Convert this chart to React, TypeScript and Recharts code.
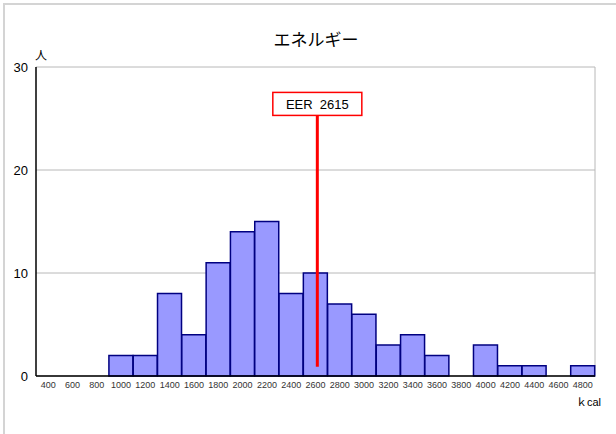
import {
  Bar,
  CartesianGrid,
  ComposedChart,
  ReferenceLine,
  XAxis,
  YAxis,
} from "recharts";

// 度数分布（200kcal刻み）
const categories = [
  "400", "600", "800", "1000", "1200", "1400", "1600", "1800", "2000", "2200", "2400", "2600",
  "2800", "3000", "3200", "3400", "3600", "3800", "4000", "4200", "4400", "4600", "4800",
];
const counts = [0, 0, 0, 2, 2, 8, 4, 11, 14, 15, 8, 10, 7, 6, 3, 4, 2, 0, 3, 1, 1, 0, 1];
const yTicks = [0, 10, 20, 30];

// 推定エネルギー必要量
const EER = 2615;
const eerSpan = [0.9, 25.3];

const data = categories.map((c, i) => ({ kcal: c, v: Number(c), n: counts[i] }));

const font = "'Liberation Sans', Arial, 'Noto Sans CJK JP', sans-serif";

function EerLabel({ viewBox }: any) {
  if (!viewBox) return null;
  const cx = viewBox.x;
  const top = viewBox.y;
  const w = 89;
  const h = 23;
  return (
    <g>
      <rect x={cx - w / 2} y={top - h} width={w} height={h} fill="#fff" stroke="#ff0000" strokeWidth={1.5} />
      <text
        x={cx}
        y={top - h / 2 + 5}
        textAnchor="middle"
        fontSize={13}
        fontFamily={font}
        fill="#000"
        style={{ whiteSpace: "pre" }}
      >
        {`EER  ${EER}`}
      </text>
    </g>
  );
}

export default function App() {
  return (
    <div style={{ position: "absolute", left: 0, top: 0, width: 616, height: 434, background: "#fff", overflow: "hidden" }}>
      <div
        style={{
          position: "absolute",
          left: 3,
          top: 3,
          width: 620,
          height: 440,
          borderLeft: "2px solid #d4d4d4",
          borderTop: "2px solid #d4d4d4",
        }}
      />
      <div
        style={{
          position: "absolute",
          left: 0,
          width: 632,
          top: 28,
          textAlign: "center",
          fontFamily: "'Noto Sans CJK JP', sans-serif",
          fontSize: 17,
          lineHeight: "22px",
        }}
      >
        エネルギー
      </div>
      <div style={{ position: "absolute", left: 35, top: 46, fontFamily: "'Noto Sans CJK JP', sans-serif", fontSize: 12 }}>人</div>
      <div style={{ position: "absolute", left: 576, top: 393, fontFamily: font, fontSize: 11 }}>ｋcal</div>
      <ComposedChart
        width={616}
        height={434}
        data={data}
        margin={{ top: 67, right: 21, bottom: 38, left: 0 }}
        barCategoryGap={0}
        barGap={0}
        style={{ position: "absolute", left: 0, top: 0 }}
      >
        <CartesianGrid
          stroke="#b8b8b8"
          verticalCoordinatesGenerator={({ offset }: any) => [offset.left + offset.width]}
        />
        <XAxis
          dataKey="kcal"
          interval={0}
          height={20}
          tickLine={false}
          tickSize={4}
          axisLine={{ stroke: "#000", strokeWidth: 1.5 }}
          tick={{ fontSize: 9, fill: "#333", fontFamily: font }}
        />
        <XAxis
          xAxisId="num"
          dataKey="v"
          type="number"
          domain={[300, 4900]}
          allowDataOverflow
          hide
        />
        <YAxis
          width={36}
          domain={[0, 30]}
          ticks={yTicks}
          tickLine={false}
          axisLine={{ stroke: "#000", strokeWidth: 1.5 }}
          tick={{ fontSize: 13, fill: "#000", fontFamily: font }}
        />
        <Bar dataKey="n" fill="#9999ff" stroke="#000080" strokeWidth={1.5} isAnimationActive={false} />
        <ReferenceLine
          xAxisId="num"
          ifOverflow="visible"
          segment={[
            { x: EER, y: eerSpan[0] },
            { x: EER, y: eerSpan[1] },
          ]}
          stroke="#ff0000"
          strokeWidth={3}
          label={<EerLabel />}
        />
      </ComposedChart>
    </div>
  );
}
